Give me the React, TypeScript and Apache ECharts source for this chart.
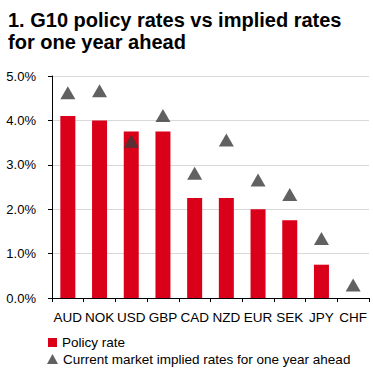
import React, { useEffect, useRef } from "react";
import * as echarts from "echarts";

const categories = ["AUD", "NOK", "USD", "GBP", "CAD", "NZD", "EUR", "SEK", "JPY", "CHF"];
const policyRate = [4.1, 4.0, 3.75, 3.75, 2.25, 2.25, 2.0, 1.75, 0.75, 0];
const impliedRate = [4.62, 4.67, 3.53, 4.11, 2.81, 3.56, 2.66, 2.33, 1.34, 0.29];
const yTicks = [0, 1, 2, 3, 4, 5];
const legendNames = ["Policy rate", "Current market implied rates for one year ahead"];

const FONT = "'Liberation Sans', Arial, sans-serif";
const NARROW = "'Liberation Sans Narrow', 'Arial Narrow', 'Liberation Sans', Arial, sans-serif";

export default function App() {
  const ref = useRef<HTMLDivElement>(null);
  useEffect(() => {
    if (!ref.current) return;
    const chart = echarts.init(ref.current, undefined, { renderer: "svg" });
    const legendText = { fontFamily: FONT, fontSize: 13.5, color: "#000000", lineHeight: 15 };
    chart.setOption({
      animation: false,
      backgroundColor: "#ffffff",
      title: {
        text: "1. G10 policy rates vs implied rates\nfor one year ahead",
        left: 3,
        top: 4,
        textStyle: {
          fontFamily: FONT,
          fontWeight: "bold",
          fontSize: 20,
          lineHeight: 22,
          color: "#000000",
        },
      },
      legend: [
        {
          left: 48,
          top: 335,
          padding: 0,
          itemWidth: 9,
          itemHeight: 9,
          textStyle: legendText,
          data: [{ name: legendNames[0], icon: "rect" }],
        },
        {
          left: 47,
          top: 351.5,
          padding: 0,
          itemWidth: 11,
          itemHeight: 10,
          textStyle: legendText,
          data: [{ name: legendNames[1], icon: "triangle" }],
        },
      ],
      grid: { left: 52, right: 4, top: 76, bottom: 72, containLabel: false },
      xAxis: {
        type: "category",
        data: categories,
        axisLine: { lineStyle: { color: "#000000", width: 1 } },
        axisTick: { show: true, length: 4, lineStyle: { color: "#000000" } },
        axisLabel: { interval: 0, margin: 12, fontFamily: NARROW, fontSize: 13.5, color: "#000000" },
      },
      yAxis: {
        type: "value",
        min: 0,
        max: 5,
        interval: 1,
        axisLine: { show: true, lineStyle: { color: "#000000", width: 1 } },
        axisTick: { show: true, length: 4, lineStyle: { color: "#000000" } },
        axisLabel: {
          margin: 16,
          fontFamily: FONT,
          fontSize: 13,
          color: "#000000",
          formatter: (v: number) => (yTicks.includes(v) ? v.toFixed(1) + "%" : ""),
        },
        splitLine: { show: true, lineStyle: { color: "#D9D9D9", width: 1 } },
      },
      series: [
        {
          name: legendNames[0],
          type: "bar",
          data: policyRate,
          barWidth: 15,
          itemStyle: { color: "#DA0019" },
        },
        {
          name: legendNames[1],
          type: "scatter",
          data: impliedRate,
          symbol: "triangle",
          symbolSize: [15, 13],
          itemStyle: { color: "#3A3A3A" },
          z: 5,
        },
      ],
    });
    return () => chart.dispose();
  }, []);
  return (
    <div
      ref={ref}
      style={{ position: "fixed", left: 0, top: 0, width: 373, height: 370 }}
    />
  );
}
